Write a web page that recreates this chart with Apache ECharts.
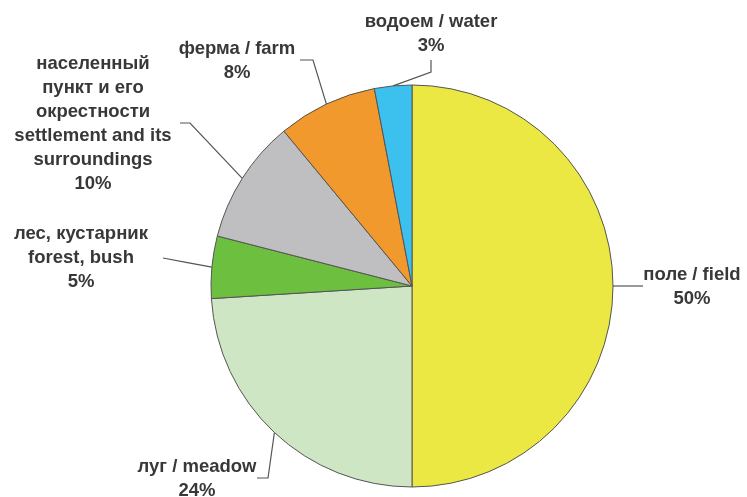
<!DOCTYPE html>
<html>
<head>
<meta charset="utf-8">
<script src="https://cdn.jsdelivr.net/npm/echarts@6/dist/echarts.min.js"></script>
<style>
  html, body { margin: 0; padding: 0; background: #ffffff; }
  #chart { width: 747px; height: 497px; }
</style>
</head>
<body>
<div id="chart"></div>
<script>
// Land-use categories, clockwise from 12 o'clock
const categories = [
  'поле / field',
  'луг / meadow',
  'лес, кустарник\nforest, bush',
  'населенный\nпункт и его\nокрестности\nsettlement and its\nsurroundings',
  'ферма / farm',
  'водоем / water'
];
const shares = [50, 24, 5, 10, 8, 3];
const sliceColors = ['#ebe843', '#cfe6c4', '#6cbf3f', '#bfbfc2', '#f2992e', '#3cc0ee'];

// Where each label sits (text block centre) and the bends of its leader line
const labelSpots = [
  { x: 692, y: 287, elbow: [[643, null]] },
  { x: 197, y: 479, elbow: [[268, 478], [257, 478]] },
  { x: 81,  y: 258, elbow: [[163, 258]] },
  { x: 93,  y: 124, elbow: [[190, 123], [180, 123]] },
  { x: 237, y: 61,  elbow: [[313, 60], [300, 60]] },
  { x: 431, y: 34,  elbow: [[431, 72], [431, 60]] }
];

const chart = echarts.init(document.getElementById('chart'), null, { renderer: 'canvas' });

chart.setOption({
  animation: false,
  backgroundColor: '#ffffff',
  series: [{
    type: 'pie',
    center: [412, 286],
    radius: 201,
    startAngle: 90,
    clockwise: true,
    avoidLabelOverlap: false,
    data: categories.map((name, i) => ({
      name: name,
      value: shares[i],
      itemStyle: { color: sliceColors[i] }
    })),
    itemStyle: { borderColor: '#555555', borderWidth: 1 },
    label: {
      show: true,
      formatter: '{b}\n{c}%',
      fontFamily: 'Liberation Sans, Arial, sans-serif',
      fontWeight: 'bold',
      fontSize: 18.5,
      lineHeight: 24,
      color: '#383838',
      align: 'center'
    },
    labelLine: {
      show: true,
      lineStyle: { color: '#555555', width: 1.2 }
    },
    emphasis: { disabled: true },
    labelLayout: function (params) {
      const spot = labelSpots[params.dataIndex];
      const start = params.labelLinePoints ? params.labelLinePoints[0] : null;
      const out = { x: spot.x, y: spot.y, align: 'center', verticalAlign: 'middle' };
      if (start) {
        const pts = [start.slice()];
        spot.elbow.forEach(p => pts.push([p[0], p[1] === null ? start[1] : p[1]]));
        // straight leader: put the middle point on the segment itself
        if (pts.length === 2) {
          pts.splice(1, 0, [(pts[0][0] + pts[1][0]) / 2, (pts[0][1] + pts[1][1]) / 2]);
        }
        out.labelLinePoints = pts;
      }
      return out;
    }
  }]
});
</script>
</body>
</html>
